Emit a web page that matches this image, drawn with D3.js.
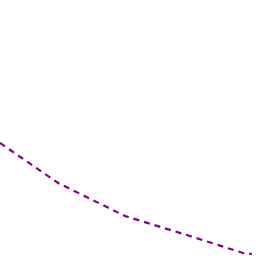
<!DOCTYPE html>
<html><head><meta charset="utf-8">
<script src="https://cdn.jsdelivr.net/npm/d3@7"></script>
<style>html,body{margin:0;padding:0;background:#fff;}svg{display:block;}</style>
</head><body>
<svg id="c" width="256" height="256"></svg>
<script>
const xValues = [0, 22.7, 48.8, 74.2, 94.9, 98.4];
const yValues = [113, 73, 40, 20, 3, 2];
const svg = d3.select("#c");
const x = d3.scaleLinear().domain([0, 100]).range([0, 256]);
const y = d3.scaleLinear().domain([0, 256]).range([256, 0]);
const data = xValues.map((d, i) => [d, yValues[i]]);
svg.append("path").datum(data)
  .attr("fill", "none").attr("stroke", "#800080").attr("stroke-width", 2.2)
  .attr("stroke-dasharray", "6,5")
  .attr("d", d3.line().x(d => x(d[0])).y(d => y(d[1])));
</script>
</body></html>
